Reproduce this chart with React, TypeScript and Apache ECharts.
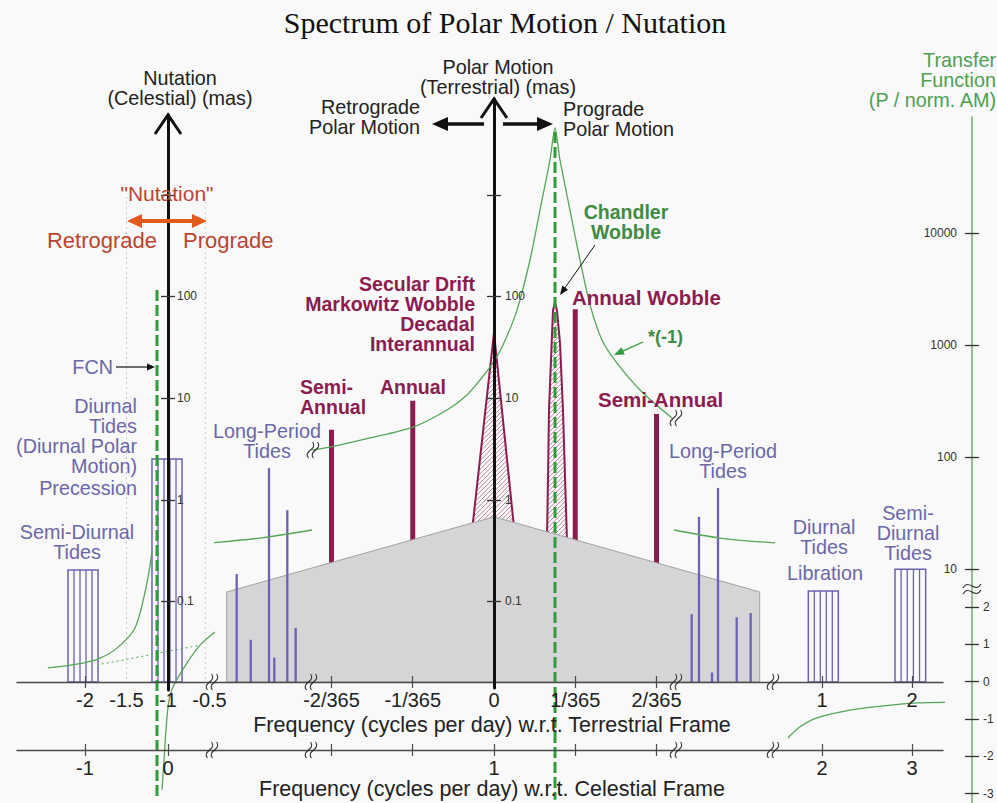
import React, { useEffect, useRef } from "react";
import * as echarts from "echarts";

const SANS = "'Liberation Sans', Arial, sans-serif";
const SERIF = "'Liberation Serif', 'Times New Roman', serif";

const MAROON = "#8b1c4f";
const BLUE = "#6a63b3";
const BLUE_TEXT = "#6b67a8";
const GREEN_LINE = "#55a657";
const GREEN_DASH = "#2f9c3a";
const GREEN_TEXT = "#3e8b43";
const GREEN_AXIS = "#8fc48f";
const RED_TEXT = "#b94531";
const ORANGE = "#e35b1b";
const INK = "#222222";
const AXIS_INK = "#4a4a4a";

// ---------------- tick values / labels ----------------
const nutTerrTicks = [-2, -1];
const nutTerrLabels = [-2, -1.5, -1, -0.5];
const nutCelTicks = [-1, 0];
const cenTicks = [-2, -1, 0, 1, 2]; // units of 1/365 cycles per day
const cenTerrLabels = ["-2/365", "-1/365", "0", "1/365", "2/365"];
const cenCelLabelVals = [0];
const cenCelLabels = ["1"];
const diuTerrTicks = [1, 2];
const diuCelTicks = [2, 3];
const ampTicks = [0.1, 1, 10, 100, 1000]; // mas
const ampLabels = [0.1, 1, 10, 100];
const tfLogTicks = [10, 100, 1000, 10000];
const tfLinTicks = [-3, -2, -1, 0, 1, 2];

// ---------------- nutation region (terrestrial cpd, mas) ----------------
const nutBoxFrom = [-2.205, -1.193];
const nutBoxTo = [-1.843, -0.831];
const nutBoxAmp = [0.204, 2.52];
const nutGuideFreq = [-1.5, -0.55];
const nutGuideTop = 950;
const fcnFreq = -1.1325;
const fcnTfTop = 3100;
const fcnLeftFreq = [-2.446, -2.024, -1.819, -1.614, -1.398, -1.253, -1.193];
const fcnLeftTf = [0.37, 0.5, 0.63, 0.9, 1.44, 2.65, 3.5];
const fcnRightFreq = [-1.072, -1.048, -1.0, -0.94, -0.771, -0.614, -0.434];
const fcnRightTf = [-2.9, -2.1, -0.68, -0.14, 0.5, 0.98, 1.33];
const fcnDotFreq = [-1.855, -1.217, -0.614];
const fcnDotTf = [0.45, 0.72, 0.98];

// ---------------- central region (1/365 cpd, mas) ----------------
const seasonalFreq = [-2, -1, 1, 2];
const seasonalAmp = [4.9, 9.4, 75, 7.0];
const lpFreq = [-3.167, -2.994, -2.769, -2.704, -2.544, -2.441, 2.433, 2.523, 2.683, 2.757, 2.987, 3.159];
const lpAmp = [0.186, 0.042, 2.05, 0.028, 0.79, 0.055, 0.075, 0.68, 0.02, 1.31, 0.07, 0.077];
const decadalFreq = [-0.27, 0, 0.25];
const decadalAmp = [0.5, 44, 0.5];
const chandlerFreq = [0.652, 0.665, 0.677, 0.71, 0.726, 0.751, 0.775, 0.812, 0.849, 0.874, 0.898];
const chandlerAmp = [0.4, 1.68, 7.6, 35, 73, 88, 73, 35, 7.6, 1.68, 0.4];
const noiseFreq = [-3.29, 0, 3.27];
const noiseAmp = [0.124, 0.68, 0.124];
const cwFreq = 0.751;
const cwTfTop = 79800;
const cwTfFreq = [-2.24, -2.006, -1.526, -0.997, -0.578, -0.332, -0.172, -0.012, 0.111, 0.283, 0.443, 0.566, 0.689, 0.751, 0.812, 0.935, 1.058, 1.182, 1.329, 1.514, 1.834, 2.191];
const cwTf = [115, 123, 148, 185, 263, 358, 487, 691, 1000, 2050, 5740, 16000, 44900, 86600, 44900, 16000, 5740, 2280, 1110, 690, 373, 223];
const lpTfLeftFreq = [-3.483, -2.88, -2.24];
const lpTfLeft = [17.1, 18.9, 22.3];
const lpTfRightFreq = [2.215, 2.782, 3.459];
const lpTfRight = [22.3, 18.9, 17.1];
const resFloorTf = 0.087;

// ---------------- diurnal region (terrestrial cpd, mas) ----------------
const diuBoxFrom = [0.848, 1.811];
const diuBoxTo = [1.181, 2.152];
const diuBoxAmp = [0.127, 0.207];
const diuTfFreq = [0.622, 0.756, 0.944, 1.311, 1.678, 2.056, 2.478];
const diuTf = [-1.51, -1.21, -0.97, -0.76, -0.65, -0.57, -0.55];

// ---------------- axis extents ----------------
const NUT_X = [-2.8193, -0.4337];
const CEN_X = [-3.4338, 3.4338];
const DIU_X = [0.4556, 2.3444];
const MAS_EXT = [-1.792, 4.5225];
const TFLOG_EXT = [-0.0089, 5.7232];
const TFLIN_EXT = [-0.008, 17.204];

const LOG = (v: number) => Math.log10(v);

function hatchLines(pts: number[][], gap: number) {
  const s = pts.map((p) => p[0] + p[1]);
  const mn = Math.min(...s);
  const mx = Math.max(...s);
  const out: any[] = [];
  for (let c = Math.ceil(mn / gap) * gap; c < mx; c += gap) {
    const hits: number[][] = [];
    for (let i = 0; i < pts.length; i++) {
      const a = pts[i];
      const b = pts[(i + 1) % pts.length];
      const fa = a[0] + a[1] - c;
      const fb = b[0] + b[1] - c;
      if ((fa <= 0 && fb > 0) || (fa > 0 && fb <= 0)) {
        const t = fa / (fa - fb);
        hits.push([a[0] + t * (b[0] - a[0]), a[1] + t * (b[1] - a[1])]);
      }
    }
    if (hits.length >= 2) {
      hits.sort((p, q) => p[0] - q[0]);
      out.push({ x1: hits[0][0], y1: hits[0][1], x2: hits[hits.length - 1][0], y2: hits[hits.length - 1][1] });
    }
  }
  return out;
}

function hatchedSeries(freqs: number[], amps: number[]) {
  return {
    type: "custom",
    xAxisIndex: 4,
    yAxisIndex: 3,
    z: 2,
    silent: true,
    data: freqs.map((f, i) => [f, LOG(amps[i])]),
    renderItem: (params: any, api: any) => {
      if (params.dataIndex !== 0) return null;
      const pts = freqs.map((f, i) => api.coord([f, LOG(amps[i])]));
      const lines = hatchLines(pts, 4.5);
      return {
        type: "group",
        children: [
          { type: "polygon", shape: { points: pts }, style: { fill: "rgba(255,255,255,0.55)", stroke: "none" } },
          ...lines.map((l) => ({ type: "line", shape: l, style: { stroke: MAROON, lineWidth: 0.7, opacity: 0.8 } })),
          { type: "polyline", shape: { points: pts }, style: { fill: "none", stroke: MAROON, lineWidth: 2 } },
        ],
      };
    },
  };
}

function boxSeries(xIdx: number, yIdx: number, from: number[], to: number[], amp: number[]) {
  return {
    type: "custom",
    xAxisIndex: xIdx,
    yAxisIndex: yIdx,
    z: 4,
    silent: true,
    data: from.map((f, i) => [f, to[i], LOG(amp[i])]),
    renderItem: (params: any, api: any) => {
      const p0 = api.coord([api.value(0), api.value(2)]);
      const p1 = api.coord([api.value(1), MAS_EXT[0]]);
      const w = p1[0] - p0[0];
      const h = p1[1] - p0[1];
      const children: any[] = [
        { type: "rect", shape: { x: p0[0], y: p0[1], width: w, height: h }, style: { fill: "none", stroke: BLUE, lineWidth: 1.5 } },
      ];
      for (let k = 1; k < 5; k++) {
        const x = p0[0] + (w * k) / 5;
        children.push({ type: "line", shape: { x1: x, y1: p0[1], x2: x, y2: p1[1] }, style: { stroke: BLUE, lineWidth: 1.3 } });
      }
      return { type: "group", children };
    },
  };
}

function stickSeries(xIdx: number, yIdx: number, freqs: number[], amps: number[], color: string, width: number, z: number) {
  return {
    type: "custom",
    xAxisIndex: xIdx,
    yAxisIndex: yIdx,
    z,
    silent: true,
    data: freqs.map((f, i) => [f, LOG(amps[i])]),
    renderItem: (params: any, api: any) => {
      const top = api.coord([api.value(0), api.value(1)]);
      const bot = api.coord([api.value(0), MAS_EXT[0]]);
      return { type: "line", shape: { x1: top[0], y1: top[1], x2: bot[0], y2: bot[1] }, style: { stroke: color, lineWidth: width } };
    },
  };
}

function resonanceSeries(xIdx: number, yIdx: number, freq: number, top: number) {
  return {
    type: "custom",
    xAxisIndex: xIdx,
    yAxisIndex: yIdx,
    z: 6,
    silent: true,
    data: [[freq, LOG(top), LOG(resFloorTf)]],
    renderItem: (params: any, api: any) => {
      const a = api.coord([api.value(0), api.value(1)]);
      const b = api.coord([api.value(0), api.value(2)]);
      return { type: "line", shape: { x1: a[0], y1: a[1], x2: b[0], y2: b[1] }, style: { stroke: GREEN_DASH, lineWidth: 3, lineDash: [11, 4] } };
    },
  };
}

function curve(xIdx: number, yIdx: number, xs: number[], ys: number[], logScale: boolean, dotted = false, smooth = 0.3) {
  return {
    type: "line",
    xAxisIndex: xIdx,
    yAxisIndex: yIdx,
    data: xs.map((x, i) => [x, logScale ? LOG(ys[i]) : ys[i]]),
    smooth,
    symbol: "none",
    clip: false,
    silent: true,
    z: 5,
    lineStyle: { color: GREEN_LINE, width: dotted ? 1 : 1.3, type: dotted ? [2, 3] : "solid" },
  };
}

function freqAxes(gridIndex: number, min: number, max: number, offset: number, ticks: number[], labels: number[], fmt: any) {
  const base = { type: "value", gridIndex, min, max, position: "bottom", offset, z: 8, splitLine: { show: false } };
  const tickStyle = { color: AXIS_INK, width: 1.2 };
  return [
    {
      ...base,
      axisLine: { show: true, onZero: false, lineStyle: { color: AXIS_INK, width: 1.3 } },
      axisTick: { show: true, customValues: ticks, length: 6, lineStyle: tickStyle },
      axisLabel: { show: true, customValues: labels, formatter: fmt, margin: 8, fontSize: 20, color: INK, fontFamily: SANS },
    },
    {
      ...base,
      axisLine: { show: false, onZero: false },
      axisTick: { show: true, inside: true, customValues: ticks, length: 6, lineStyle: tickStyle },
      axisLabel: { show: false },
    },
  ];
}

function vAxes(gridIndex: number, min: number, max: number, o: any) {
  const base = { type: "value", gridIndex, min, max, position: "left", z: 9, splitLine: { show: false } };
  const tickStyle = { color: "#333", width: 1.3 };
  return [
    {
      ...base,
      axisLine: { show: true, onZero: false, lineStyle: { color: o.lineColor, width: o.lineWidth } },
      axisTick: { show: true, inside: true, customValues: o.ticks, length: 7, lineStyle: tickStyle },
      axisLabel: {
        show: true,
        inside: o.labelsInside,
        customValues: o.labels,
        formatter: o.fmt,
        margin: o.margin,
        fontSize: 12,
        color: "#333",
        fontFamily: SANS,
      },
    },
    {
      ...base,
      axisLine: { show: false, onZero: false },
      axisTick: { show: true, inside: false, customValues: o.ticks, length: 7, lineStyle: tickStyle },
      axisLabel: { show: false },
    },
  ];
}

// text block: y is the vertical centre of the whole block
function txt(lines: string[] | string, x: number, y: number, o: any = {}) {
  const arr = Array.isArray(lines) ? lines : [lines];
  const gap = o.gap || 20;
  const align = o.align || "center";
  return {
    type: "text",
    x,
    y,
    z: 20,
    silent: true,
    style: {
      text: arr.join("\n"),
      fill: o.fill || INK,
      fontSize: o.size || 19.8,
      fontFamily: o.family || SANS,
      fontWeight: o.weight || "normal",
      lineHeight: gap,
      textAlign: align,
      align,
      textVerticalAlign: "middle",
      verticalAlign: "middle",
    },
  };
}

function arrow(x1: number, y1: number, x2: number, y2: number, color: string, width: number, headLen: number, headHalf: number) {
  const dx = x2 - x1;
  const dy = y2 - y1;
  const L = Math.sqrt(dx * dx + dy * dy);
  const ux = dx / L;
  const uy = dy / L;
  const bx = x2 - ux * headLen;
  const by = y2 - uy * headLen;
  return [
    { type: "line", z: 20, silent: true, shape: { x1, y1, x2: bx + ux * 1, y2: by + uy * 1 }, style: { stroke: color, lineWidth: width } },
    {
      type: "polygon",
      z: 20,
      silent: true,
      shape: { points: [[x2, y2], [bx - uy * headHalf, by + ux * headHalf], [bx + uy * headHalf, by - ux * headHalf]] },
      style: { fill: color },
    },
  ];
}

function brk(x: number, y: number) {
  return [-2.5, 2.5].map((dx) => ({
    type: "bezierCurve",
    z: 20,
    silent: true,
    shape: { x1: x + dx - 2, y1: y + 8, x2: x + dx + 2, y2: y - 8, cpx1: x + dx - 8, cpy1: y + 1, cpx2: x + dx + 8, cpy2: y - 1 },
    style: { stroke: "#333", lineWidth: 1.1, fill: "none" },
  }));
}

function hbrk(x: number, y: number) {
  return [-3, 3].map((dy) => ({
    type: "bezierCurve",
    z: 20,
    silent: true,
    shape: { x1: x - 9, y1: y + dy + 2, x2: x + 9, y2: y + dy - 2, cpx1: x - 3, cpy1: y + dy - 8, cpx2: x + 3, cpy2: y + dy + 8 },
    style: { stroke: "#333", lineWidth: 1.1, fill: "none" },
  }));
}

function buildOption() {
  const grid = [
    { left: 17, top: 40, width: 198, height: 642 },
    { left: 215, top: 40, width: 558, height: 642 },
    { left: 773, top: 40, width: 170, height: 642 },
    { left: 168, top: 115, width: 1, height: 575 },
    { left: 494, top: 99, width: 1, height: 589 },
    { left: 972, top: 117, width: 1, height: 471 },
    { left: 972, top: 588, width: 1, height: 215 },
  ];

  const xAxis = [
    ...freqAxes(0, NUT_X[0], NUT_X[1], 0, nutTerrTicks, nutTerrLabels, (v: number) => String(v)),
    ...freqAxes(0, NUT_X[0] + 1, NUT_X[1] + 1, 68, nutCelTicks, nutCelTicks, (v: number) => String(v)),
    ...freqAxes(1, CEN_X[0], CEN_X[1], 0, cenTicks, cenTicks, (v: number) => cenTerrLabels[cenTicks.indexOf(v)]),
    ...freqAxes(1, CEN_X[0], CEN_X[1], 68, cenTicks, cenCelLabelVals, (v: number) => cenCelLabels[cenCelLabelVals.indexOf(v)]),
    ...freqAxes(2, DIU_X[0], DIU_X[1], 0, diuTerrTicks, diuTerrTicks, (v: number) => String(v)),
    ...freqAxes(2, DIU_X[0] + 1, DIU_X[1] + 1, 68, diuCelTicks, diuCelTicks, (v: number) => String(v)),
    { type: "value", gridIndex: 3, min: 0, max: 1, show: false },
    { type: "value", gridIndex: 4, min: 0, max: 1, show: false },
    { type: "value", gridIndex: 5, min: 0, max: 1, show: false },
    { type: "value", gridIndex: 6, min: 0, max: 1, show: false },
  ];

  const hy = (g: number, e: number[]) => ({ type: "value", gridIndex: g, min: e[0], max: e[1], show: false, splitLine: { show: false } });
  const ampFmt = (v: number) => (v < 0 ? String(Math.pow(10, v).toFixed(1)) : String(Math.round(Math.pow(10, v))));
  const yAxis = [
    hy(0, MAS_EXT), hy(0, TFLOG_EXT), hy(0, TFLIN_EXT),
    hy(1, MAS_EXT), hy(1, TFLOG_EXT), hy(1, TFLIN_EXT),
    hy(2, MAS_EXT), hy(2, TFLOG_EXT), hy(2, TFLIN_EXT),
    ...vAxes(3, -1.871, 3.785, {
      lineColor: "#111", lineWidth: 3, ticks: ampTicks.map(LOG), labels: ampLabels.map(LOG), fmt: ampFmt, labelsInside: true, margin: 9,
    }),
    ...vAxes(4, -1.851, 3.942, {
      lineColor: "#111", lineWidth: 3, ticks: ampTicks.map(LOG), labels: ampLabels.map(LOG), fmt: ampFmt, labelsInside: true, margin: 11,
    }),
    ...vAxes(5, 0.8304, 5.0357, {
      lineColor: GREEN_AXIS, lineWidth: 2, ticks: tfLogTicks.map(LOG), labels: tfLogTicks.map(LOG), fmt: (v: number) => String(Math.round(Math.pow(10, v))), labelsInside: false, margin: 15,
    }),
    ...vAxes(6, -3.252, 2.512, {
      lineColor: GREEN_AXIS, lineWidth: 2, ticks: tfLinTicks, labels: tfLinTicks, fmt: (v: number) => String(v), labelsInside: true, margin: 11,
    }),
  ];

  const series: any[] = [
    // nutation region
    {
      type: "custom",
      xAxisIndex: 0,
      yAxisIndex: 0,
      z: 1,
      silent: true,
      data: nutGuideFreq.map((f) => [f, LOG(nutGuideTop)]),
      renderItem: (params: any, api: any) => {
        const a = api.coord([api.value(0), api.value(1)]);
        const b = api.coord([api.value(0), MAS_EXT[0]]);
        return { type: "line", shape: { x1: a[0], y1: a[1], x2: b[0], y2: b[1] }, style: { stroke: "#cfc8c2", lineWidth: 1, lineDash: [2, 3] } };
      },
    },
    boxSeries(0, 0, nutBoxFrom, nutBoxTo, nutBoxAmp),
    resonanceSeries(0, 1, fcnFreq, fcnTfTop),
    curve(0, 2, fcnLeftFreq, fcnLeftTf, false),
    curve(0, 2, fcnRightFreq, fcnRightTf, false),
    curve(0, 2, fcnDotFreq, fcnDotTf, false, true),
    // central region
    stickSeries(4, 3, seasonalFreq, seasonalAmp, MAROON, 5, 2),
    hatchedSeries(decadalFreq, decadalAmp),
    hatchedSeries(chandlerFreq, chandlerAmp),
    {
      type: "custom",
      xAxisIndex: 4,
      yAxisIndex: 3,
      z: 3,
      silent: true,
      data: noiseFreq.map((f, i) => [f, LOG(noiseAmp[i])]),
      renderItem: (params: any, api: any) => {
        if (params.dataIndex !== 0) return null;
        const pts = [
          api.coord([noiseFreq[0], MAS_EXT[0]]),
          ...noiseFreq.map((f, i) => api.coord([f, LOG(noiseAmp[i])])),
          api.coord([noiseFreq[noiseFreq.length - 1], MAS_EXT[0]]),
        ];
        return { type: "polygon", shape: { points: pts }, style: { fill: "#d5d5d7", stroke: "#a2a2a4", lineWidth: 1 } };
      },
    },
    stickSeries(4, 3, lpFreq, lpAmp, BLUE, 2.3, 4),
    curve(4, 4, cwTfFreq, cwTf, true, false, 0.25),
    curve(4, 4, lpTfLeftFreq, lpTfLeft, true),
    curve(4, 4, lpTfRightFreq, lpTfRight, true),
    resonanceSeries(4, 4, cwFreq, cwTfTop),
    // diurnal region
    boxSeries(8, 6, diuBoxFrom, diuBoxTo, diuBoxAmp),
    curve(8, 8, diuTfFreq, diuTf, false),
  ];

  const maroon = { fill: MAROON, weight: "bold", size: 19.5 };
  const blue = { fill: BLUE_TEXT };
  const greenT = { fill: "#4f9f52", align: "right" };

  const graphic: any[] = [
    txt("Spectrum of Polar Motion / Nutation", 505, 22, { size: 30, family: SERIF, fill: "#111" }),
    txt(["Nutation", "(Celestial) (mas)"], 180, 87.5),
    txt(["Polar Motion", "(Terrestrial) (mas)"], 498, 76.5),
    txt(["Retrograde", "Polar Motion"], 420, 117, { align: "right" }),
    txt(["Prograde", "Polar Motion"], 563, 119, { align: "left" }),
    txt('"Nutation"', 167, 193, { fill: RED_TEXT, size: 21 }),
    txt("Retrograde", 157, 240, { fill: RED_TEXT, align: "right", size: 22 }),
    txt("Prograde", 183, 240, { fill: RED_TEXT, align: "left", size: 22 }),
    txt("FCN", 113, 367, { ...blue, align: "right" }),
    txt(["Diurnal", "Tides", "(Diurnal Polar", "Motion)"], 137, 435.5, { ...blue, align: "right" }),
    txt("Precession", 137, 488, { ...blue, align: "right" }),
    txt(["Semi-Diurnal", "Tides"], 77, 541.5, blue),
    txt(["Long-Period", "Tides"], 267, 441, blue),
    txt(["Long-Period", "Tides"], 723, 461, blue),
    txt(["Diurnal", "Tides"], 824, 536.5, blue),
    txt("Libration", 825, 573, blue),
    txt(["Semi-", "Diurnal", "Tides"], 908, 532.5, blue),
    txt(["Secular Drift", "Markowitz Wobble", "Decadal", "Interannual"], 475, 314, { ...maroon, align: "right" }),
    txt(["Semi-", "Annual"], 300, 396.5, { ...maroon, align: "left" }),
    txt("Annual", 413, 387, maroon),
    txt("Annual Wobble", 572, 297, { ...maroon, align: "left", size: 20.5 }),
    txt("Semi-Annual", 598, 399, { ...maroon, align: "left", size: 20.5 }),
    txt(["Chandler", "Wobble"], 626, 222, { fill: GREEN_TEXT, weight: "bold", size: 19.5 }),
    txt("*(-1)", 648, 337, { fill: GREEN_TEXT, weight: "bold", size: 18, align: "left" }),
    txt(["Transfer", "Function", "(P / norm. AM)"], 996, 80, greenT),
    txt("Frequency (cycles per day) w.r.t. Terrestrial Frame", 492, 725, { size: 21.5 }),
    txt("Frequency (cycles per day) w.r.t. Celestial Frame", 492, 789, { size: 21.5 }),
    // axis chevrons
    { type: "polyline", z: 20, silent: true, shape: { points: [[481, 118], [494, 99], [507, 118]] }, style: { stroke: "#111", lineWidth: 3, fill: "none" } },
    { type: "polyline", z: 20, silent: true, shape: { points: [[155, 134], [168, 115], [181, 134]] }, style: { stroke: "#111", lineWidth: 3, fill: "none" } },
    ...arrow(484, 124, 432, 124, "#111", 3.5, 16, 7),
    ...arrow(503, 124, 553, 124, "#111", 3.5, 16, 7),
    ...arrow(170, 221, 127, 221, ORANGE, 4, 15, 7),
    ...arrow(166, 221, 207, 221, ORANGE, 4, 15, 7),
    ...arrow(116, 367, 155, 367, "#111", 1.2, 8, 3.5),
    ...arrow(595, 245, 560, 295, "#111", 1, 9, 3.5),
    ...arrow(643, 342, 614, 355, GREEN_DASH, 1.3, 10, 4),
    // break marks
    ...[212, 311, 676, 773].flatMap((x) => [...brk(x, 682), ...brk(x, 750)]),
    ...brk(313, 450),
    ...brk(676, 418),
    ...hbrk(972, 589),
  ];

  return {
    animation: false,
    backgroundColor: "#f9f9f9",
    grid,
    xAxis,
    yAxis,
    series,
    graphic: { elements: graphic },
  };
}

export default function App() {
  const ref = useRef<HTMLDivElement>(null);
  useEffect(() => {
    document.body.style.margin = "0";
    if (!ref.current) return;
    const chart = echarts.init(ref.current, null, { renderer: "svg" });
    chart.setOption(buildOption() as any);
    return () => chart.dispose();
  }, []);
  return <div ref={ref} style={{ position: "absolute", left: 0, top: 0, width: 997, height: 803 }} />;
}
